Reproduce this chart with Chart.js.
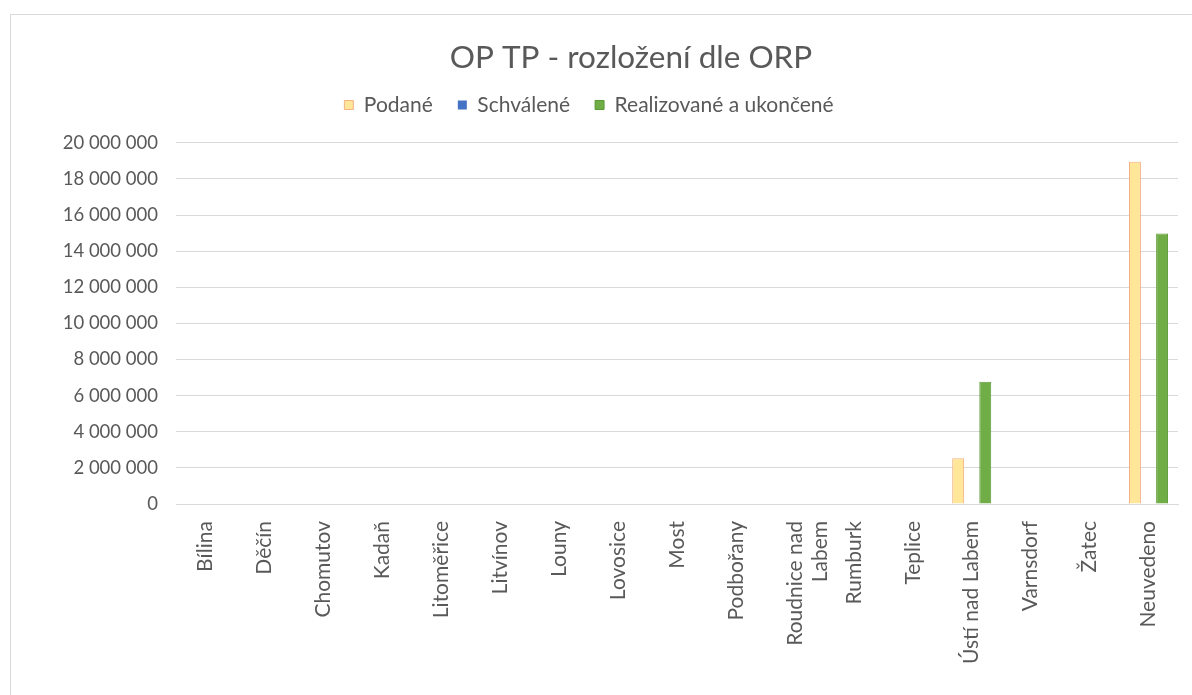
<!DOCTYPE html>
<html>
<head>
<meta charset="utf-8">
<script src="https://cdn.jsdelivr.net/npm/chart.js@4.4.1/dist/chart.umd.min.js"></script>
<style>
  html, body { margin: 0; padding: 0; background: #fff; overflow: hidden; }
  #frame { position: absolute; left: 10px; top: 14px; width: 1200px; height: 700px; border: 1px solid #d9d9d9; }
  #wrap { position: absolute; left: 0; top: 0; width: 1192px; height: 695px; }
</style>
</head>
<body>
<div id="frame"></div>
<div id="wrap"><canvas id="orpChart" width="1192" height="695"></canvas></div>
<script>
// Data
const orp = ['Bílina', 'Děčín', 'Chomutov', 'Kadaň', 'Litoměřice', 'Litvínov', 'Louny', 'Lovosice', 'Most',
    'Podbořany', ['Roudnice nad', 'Labem'], 'Rumburk', 'Teplice', 'Ústí nad Labem', 'Varnsdorf', 'Žatec', 'Neuvedeno'];
const podane = [0, 0, 0, 0, 0, 0, 0, 0, 0, 0, 0, 0, 0, 2540000, 0, 0, 18950000];
const schvalene = [0, 0, 0, 0, 0, 0, 0, 0, 0, 0, 0, 0, 0, 0, 0, 0, 0];
const realizovane = [0, 0, 0, 0, 0, 0, 0, 0, 0, 0, 0, 0, 0, 6770000, 0, 0, 14980000];

const fontName = 'Lato, "Open Sans", sans-serif';
const textColor = '#595959';

// format 20000000 -> "20 000 000"
function formatNumber(v) {
    return String(v).replace(/\B(?=(\d{3})+(?!\d))/g, ' ');
}

// move title and legend a bit, like in the original Excel chart
const shiftBlocks = {
    id: 'shiftBlocks',
    afterLayout(chart) {
        const t = chart.titleBlock;
        t.left += 42; t.right += 42;
        const l = chart.legend;
        const dy = 69.5 - l.top;
        l.top += dy; l.bottom += dy;
    }
};

const ctx = document.getElementById('orpChart').getContext('2d');
const chart = new Chart(ctx, {
    type: 'bar',
    data: {
        labels: orp,
        datasets: [
            {
                label: 'Podané',
                data: podane,
                backgroundColor: '#ffe699',
                borderColor: '#f4b183',
                borderWidth: 1
            },
            {
                label: 'Schválené',
                data: schvalene,
                backgroundColor: '#4472c4',
                borderColor: '#4472c4',
                borderWidth: 0
            },
            {
                label: 'Realizované a ukončené',
                data: realizovane,
                backgroundColor: '#70ad47',
                borderColor: '#5a9a36',
                borderWidth: 1
            }
        ]
    },
    options: {
        responsive: false,
        animation: false,
        categoryPercentage: 0.69,
        barPercentage: 0.88,
        layout: { padding: { left: 0, right: 14, top: 0, bottom: 0 } },
        plugins: {
            title: {
                display: true,
                text: 'OP TP - rozložení dle ORP',
                color: textColor,
                font: { family: fontName, size: 31.5, weight: 'normal' },
                padding: { top: 39, bottom: 10 }
            },
            legend: {
                position: 'top',
                labels: {
                    color: textColor,
                    font: { family: fontName, size: 21 },
                    boxWidth: 9,
                    boxHeight: 9,
                    padding: 25
                }
            },
            tooltip: { enabled: false }
        },
        scales: {
            x: {
                grid: { display: false },
                border: { color: '#d9d9d9' },
                ticks: {
                    color: textColor,
                    font: { family: fontName, size: 21 },
                    minRotation: 90,
                    maxRotation: 90,
                    autoSkip: false,
                    padding: 9
                },
                afterFit: function (scale) { scale.height = 191; }
            },
            y: {
                min: 0,
                max: 20000000,
                grid: { color: '#d9d9d9', drawTicks: false },
                border: { display: false },
                ticks: {
                    stepSize: 2000000,
                    color: textColor,
                    font: { family: fontName, size: 18.5 },
                    padding: 18,
                    callback: function (value) { return formatNumber(value); }
                },
                afterFit: function (scale) { scale.width = 176; }
            }
        }
    },
    plugins: [shiftBlocks]
});
</script>
</body>
</html>
